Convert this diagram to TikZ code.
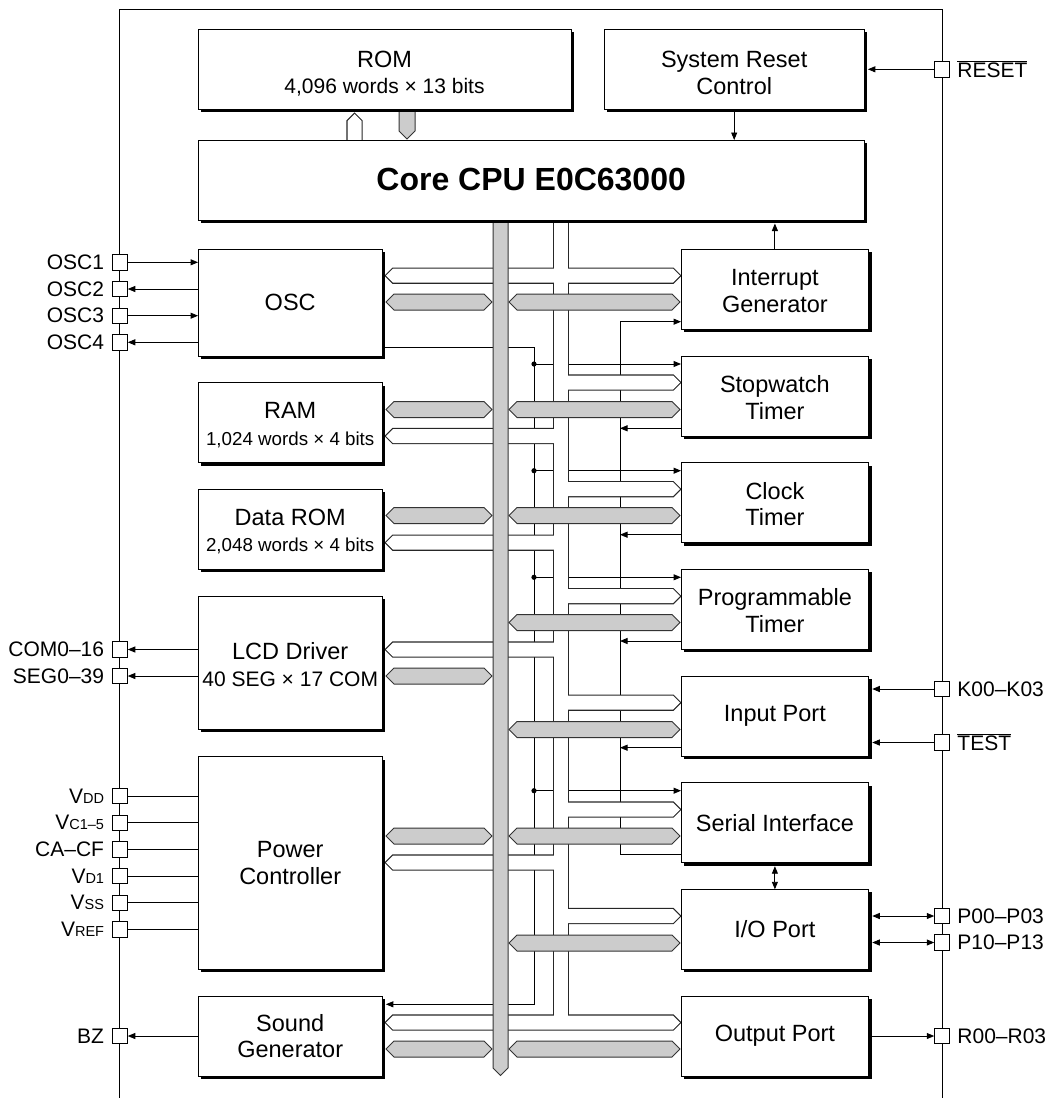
\documentclass[tikz,border=0pt]{standalone}
\usepackage{fontspec}
\setmainfont{Liberation Sans}
\usetikzlibrary{calc,positioning,shadows,backgrounds,arrows.meta}

\newcommand{\subtxt}{\fontsize{21}{27}\selectfont}
\newcommand{\ramtxt}{\fontsize{18.75}{27}\selectfont}
\newcommand{\pinsub}[1]{{\fontsize{14.5}{15}\selectfont #1}}

% bus outlines (y grows downwards), half height \bh
\newcommand{\bh}{7}
\newcommand{\tipboth}[3]{(#1,#3) -- ({#1+\bh},{#3-\bh}) -- ({#2-\bh},{#3-\bh}) -- (#2,#3) -- ({#2-\bh},{#3+\bh}) -- ({#1+\bh},{#3+\bh}) -- cycle}
\newcommand{\tipleft}[3]{(#1,#3) -- ({#1+\bh},{#3-\bh}) -- (#2,{#3-\bh}) -- (#2,{#3+\bh}) -- ({#1+\bh},{#3+\bh}) -- cycle}
\newcommand{\tipright}[3]{(#1,{#3-\bh}) -- ({#2-\bh},{#3-\bh}) -- (#2,#3) -- ({#2-\bh},{#3+\bh}) -- (#1,{#3+\bh}) -- cycle}

% address bus, drawn twice: outline, then white inside
\newcommand{\hollowbuses}[1]{%
  \path[#1] (354.5,114) -- (361.5,121) -- (361.5,141) -- (347.5,141) -- (347.5,121) -- cycle;
  \path[#1] (554,219) rectangle (568,1022.5);
  \path[#1] \tipboth{386}{680}{275.7};
  \path[#1] \tipright{561}{680}{382.5};
  \path[#1] \tipleft{386}{561}{436};
  \path[#1] \tipright{561}{680}{489.2};
  \path[#1] \tipleft{386}{561}{542.7};
  \path[#1] \tipright{561}{680}{596.2};
  \path[#1] \tipleft{386}{561}{649.5};
  \path[#1] \tipright{561}{680}{702.7};
  \path[#1] \tipright{561}{680}{809.5};
  \path[#1] \tipleft{386}{561}{862.5};
  \path[#1] \tipright{561}{680}{916};
  \path[#1] \tipboth{386}{680}{1022.5};
}

\tikzset{
  blk/.style={draw, line width=1pt, fill=white, inner sep=0pt, outer sep=0pt, align=center,
    font=\fontsize{23.5}{26.7}\selectfont,
    drop shadow={shadow xshift=3pt, shadow yshift=-3pt, fill=black, opacity=1}},
  lblk/.style={blk, minimum width=184.3pt},
  rblk/.style={blk, minimum width=187.7pt, minimum height=80pt},
  pinbox/.style={draw, fill=white, line width=0.8pt, minimum size=15.5pt, inner sep=0pt, outer sep=0pt},
  pinlbl/.style={inner sep=0pt, font=\fontsize{21}{24}\selectfont},
  sig/.style={line width=0.9pt, -{Triangle[length=7.5pt,width=6pt]}},
  sigboth/.style={line width=0.9pt, {Triangle[length=7.5pt,width=6pt]}-{Triangle[length=7.5pt,width=6pt]}},
  wire/.style={line width=0.9pt},
  graybus/.style={draw=black!80, line width=1pt, fill=black!20}
}

\begin{document}
\begin{tikzpicture}[x=1pt,y=-1pt]
  \useasboundingbox (0,0) rectangle (1059,1098);

  % top row
  \node[blk, minimum width=373pt, minimum height=80pt] (rom) at (384.5,69.3) {\rule{0pt}{25pt}ROM\\\subtxt 4,096 words × 13 bits};
  \node[blk, minimum width=260.3pt, minimum height=80pt] (rst) at (734.2,69.3) {\rule{0pt}{23pt}System Reset\\Control};
  \node[blk, minimum width=666.3pt, minimum height=80pt, font=\fontsize{32}{36}\selectfont\bfseries] (cpu) at (531.2,180) {Core CPU E0C63000};

  % left column
  \node[lblk, minimum height=106.7pt] (osc) at (290.2,302.7) {OSC};
  \node[lblk, minimum height=80pt] (ram) at (290.2,422.7) {\rule{0pt}{21pt}RAM\\\ramtxt 1,024 words × 4 bits};
  \node[lblk, minimum height=80pt] (drom) at (290.2,529.3) {\rule{0pt}{21pt}Data ROM\\\ramtxt 2,048 words × 4 bits};
  \node[lblk, minimum height=133.3pt] (lcd) at (290.2,662.7) {\rule{0pt}{21pt}LCD Driver\\\subtxt 40 SEG × 17 COM};
  \node[lblk, minimum height=212.7pt] (pwr) at (290.2,863) {Power\\Controller};
  \node[lblk, minimum height=80pt] (snd) at (290.2,1036) {Sound\\Generator};

  % right column
  \node[rblk] (intg) at (774.9,289.3) {\rule{0pt}{20pt}Interrupt\\Generator};
  \node[rblk] (swt) at (774.9,396) {\rule{0pt}{20pt}Stopwatch\\Timer};
  \node[rblk] (clkt) at (774.9,502.7) {\rule{0pt}{20pt}Clock\\Timer};
  \node[rblk] (prgt) at (774.9,609.3) {\rule{0pt}{20pt}Programmable\\Timer};
  \node[rblk] (inp) at (774.9,716) {Input Port};
  \node[rblk] (sio) at (774.9,822.7) {Serial Interface};
  \node[rblk] (iop) at (774.9,929.3) {I/O Port};
  \node[rblk] (outp) at (774.9,1036) {Output Port};

  % pins, left side
  \node[pinbox] (osc1) at (120,262.3) {};
  \node[pinbox] (osc2) at (120,289) {};
  \node[pinbox] (osc3) at (120,315.7) {};
  \node[pinbox] (osc4) at (120,342.3) {};
  \node[pinbox] (com) at (120,649.5) {};
  \node[pinbox] (seg) at (120,676) {};
  \node[pinbox] (vdd) at (120,796) {};
  \node[pinbox] (vc) at (120,822.7) {};
  \node[pinbox] (cacf) at (120,849.5) {};
  \node[pinbox] (vd1) at (120,876) {};
  \node[pinbox] (vss) at (120,902.7) {};
  \node[pinbox] (vref) at (120,929.5) {};
  \node[pinbox] (bz) at (120,1036) {};
  \node[pinlbl, left=8pt of osc1] (osc1l) {OSC1};
  \node[pinlbl, left=8pt of osc2] (osc2l) {OSC2};
  \node[pinlbl, left=8pt of osc3] (osc3l) {OSC3};
  \node[pinlbl, left=8pt of osc4] (osc4l) {OSC4};
  \node[pinlbl, left=8pt of com] (coml) {COM0--16};
  \node[pinlbl, left=8pt of seg] (segl) {SEG0--39};
  \node[pinlbl, left=8pt of vdd] (vddl) {V\pinsub{DD}};
  \node[pinlbl, left=8pt of vc] (vcl) {V\pinsub{C1--5}};
  \node[pinlbl, left=8pt of cacf] (cacfl) {CA--CF};
  \node[pinlbl, left=8pt of vd1] (vd1l) {V\pinsub{D1}};
  \node[pinlbl, left=8pt of vss] (vssl) {V\pinsub{SS}};
  \node[pinlbl, left=8pt of vref] (vrefl) {V\pinsub{REF}};
  \node[pinlbl, left=8pt of bz] (bzl) {BZ};

  % pins, right side
  \node[pinbox] (reset) at (942,69.3) {};
  \node[pinbox] (k0) at (942,689) {};
  \node[pinbox] (test) at (942,742.5) {};
  \node[pinbox] (p0) at (942,916) {};
  \node[pinbox] (p1) at (942,942.5) {};
  \node[pinbox] (r0) at (942,1036) {};
  \node[pinlbl, right=7.5pt of reset] (resetl) {$\overline{\hbox{RESET}}$};
  \node[pinlbl, right=7.5pt of k0] (k0l) {K00--K03};
  \node[pinlbl, right=7.5pt of test] (testl) {$\overline{\hbox{TEST}}$};
  \node[pinlbl, right=7.5pt of p0] (p0l) {P00--P03};
  \node[pinlbl, right=7.5pt of p1] (p1l) {P10--P13};
  \node[pinlbl, right=7.5pt of r0] (r0l) {R00--R03};

  % pin signals
  \draw[sig] (osc1.east) -- (osc1 -| osc.west);
  \draw[sig] (osc2 -| osc.west) -- (osc2.east);
  \draw[sig] (osc3.east) -- (osc3 -| osc.west);
  \draw[sig] (osc4 -| osc.west) -- (osc4.east);
  \draw[sig] (com -| lcd.west) -- (com.east);
  \draw[sig] (seg -| lcd.west) -- (seg.east);
  \draw[wire] (vdd.east) -- (vdd -| pwr.west);
  \draw[wire] (vc.east) -- (vc -| pwr.west);
  \draw[wire] (cacf.east) -- (cacf -| pwr.west);
  \draw[wire] (vd1.east) -- (vd1 -| pwr.west);
  \draw[wire] (vss.east) -- (vss -| pwr.west);
  \draw[wire] (vref.east) -- (vref -| pwr.west);
  \draw[sig] (bz -| snd.west) -- (bz.east);
  \draw[sig, shorten >=3.5pt] (reset.west) -- (reset -| rst.east);
  \draw[sig, shorten >=3.5pt] (k0.west) -- (k0 -| inp.east);
  \draw[sig, shorten >=3.5pt] (test.west) -- (test -| inp.east);
  \draw[sigboth, shorten >=3.5pt] (p0.west) -- (p0 -| iop.east);
  \draw[sigboth, shorten >=3.5pt] (p1.west) -- (p1 -| iop.east);
  \draw[sig] (r0 -| outp.east) -- (r0.west);
  \draw[sig] (rst.south) -- (rst.south |- cpu.north);
  \draw[sig, shorten >=3.5pt] (intg.north) -- (intg.north |- cpu.south);
  \draw[sigboth, shorten <=3.5pt] (sio.south) -- (iop.north);

  \begin{pgfonlayer}{background}
    % chip outline
    \draw[line width=1pt] (119,1098) -- (119,9) -- (942,9) -- (942,1098);

    % clock line from OSC
    \coordinate (ck0) at ($(osc.south east)+(0,-8.3)$);
    \coordinate (ckx) at (534,1004.3);
    \coordinate (ck1) at ($(swt.north west)+(0,8)$);
    \coordinate (ck2) at ($(clkt.north west)+(0,8)$);
    \coordinate (ck3) at ($(prgt.north west)+(0,8)$);
    \coordinate (ck4) at ($(sio.north west)+(0,8)$);
    \coordinate (ck5) at ($(snd.north east)+(3.5,8.3)$);
    \draw[sig] (ck0) -| (ckx) -- (ck5);
    \draw[sig] (ckx |- ck1) -- (ck1);
    \draw[sig] (ckx |- ck2) -- (ck2);
    \draw[sig] (ckx |- ck3) -- (ck3);
    \draw[sig] (ckx |- ck4) -- (ck4);

    % interrupt requests
    \coordinate (iqx) at (620,0);
    \coordinate (iq0) at ($(intg.south west)+(0,-7.6)$);
    \coordinate (iq1) at ($(swt.south west)+(0,-7.7)$);
    \coordinate (iq2) at ($(clkt.south west)+(0,-8)$);
    \coordinate (iq3) at ($(prgt.south west)+(0,-8.3)$);
    \coordinate (iq4) at ($(inp.south west)+(0,-8.3)$);
    \coordinate (iq5) at ($(sio.south west)+(0,-8.4)$);
    \draw[sig] (iq5) -| (iqx |- iq0) -- (iq0);
    \draw[sig] (iq1) -- (iqx |- iq1);
    \draw[sig] (iq2) -- (iqx |- iq2);
    \draw[sig] (iq3) -- (iqx |- iq3);
    \draw[sig] (iq4) -- (iqx |- iq4);

    % address bus
    \hollowbuses{draw=black!85, line width=2.2pt}
    \hollowbuses{fill=white}

    % data bus
    \renewcommand{\bh}{8}
    \path[graybus] (399,109) -- (415,109) -- (415,131) -- (407,139) -- (399,131) -- cycle;
    \path[graybus] \tipboth{386}{492}{302};
    \path[graybus] \tipboth{509}{680}{302};
    \path[graybus] \tipboth{386}{492}{409.5};
    \path[graybus] \tipboth{509}{680}{409.5};
    \path[graybus] \tipboth{386}{492}{515.5};
    \path[graybus] \tipboth{509}{680}{515.5};
    \path[graybus] \tipboth{509}{680}{622.5};
    \path[graybus] \tipboth{386}{492}{676};
    \path[graybus] \tipboth{509}{680}{729.5};
    \path[graybus] \tipboth{386}{492}{836};
    \path[graybus] \tipboth{509}{680}{836};
    \path[graybus] \tipboth{509}{680}{943};
    \path[graybus] \tipboth{386}{492}{1049};
    \path[graybus] \tipboth{509}{680}{1049};
    \path[graybus] (493,219) -- (508,219) -- (508,1068) -- (500.5,1075.5) -- (493,1068) -- cycle;

    % junction dots
    \fill (ckx |- ck1) circle (2.6pt);
    \fill (ckx |- ck2) circle (2.6pt);
    \fill (ckx |- ck3) circle (2.6pt);
    \fill (ckx |- ck4) circle (2.6pt);
  \end{pgfonlayer}
\end{tikzpicture}
\end{document}
